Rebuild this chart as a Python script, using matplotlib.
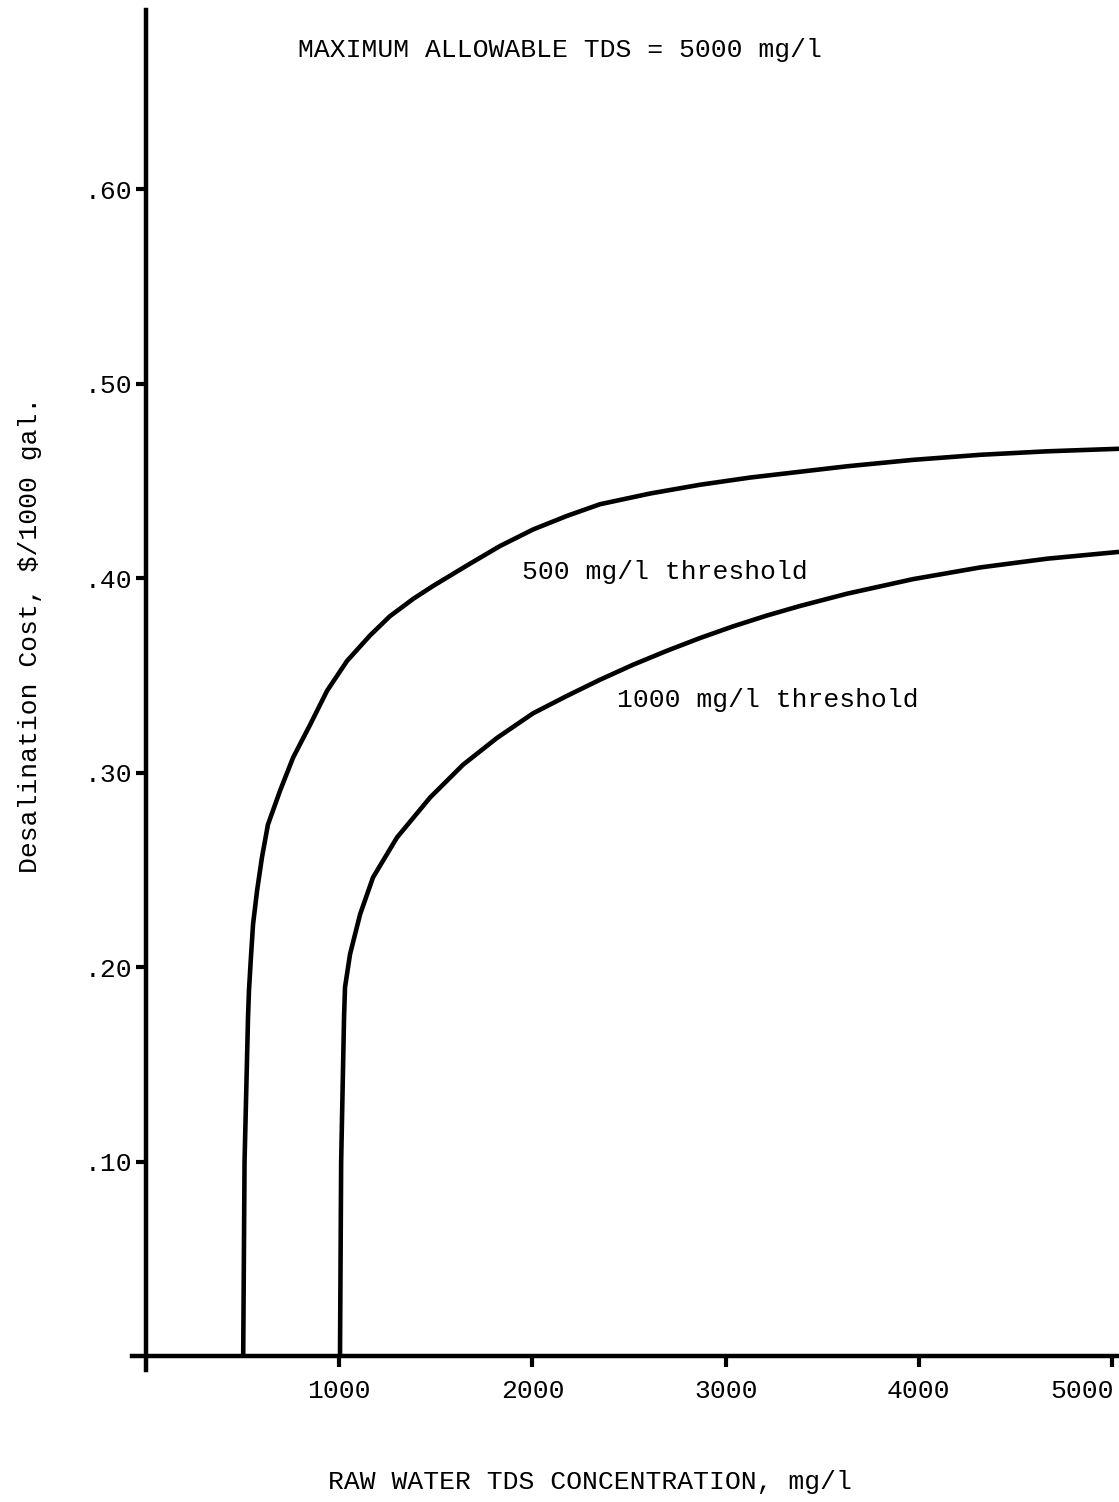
import matplotlib
matplotlib.use("Agg")
import matplotlib.pyplot as plt
import matplotlib.transforms as mtransforms

# ---- data ----
tds_500 = [503, 510, 528, 533, 543, 554, 575, 600, 631, 694, 761, 849, 937, 1040, 1159, 1263,
           1315, 1382, 1486, 1661, 1832, 2003, 2179, 2350, 2609, 2867, 3126, 3628, 3970, 4317, 4664, 5036]
cost_500 = [0.0, 0.10, 0.1744, 0.1882, 0.2051, 0.2221, 0.2395, 0.2564, 0.2733, 0.2908, 0.3077, 0.3246,
            0.3421, 0.3574, 0.3705, 0.3805, 0.3843, 0.3893, 0.3960, 0.4065, 0.4165, 0.4250, 0.4320,
            0.4380, 0.4435, 0.4480, 0.4517, 0.4575, 0.4608, 0.4634, 0.4652, 0.4665]

tds_1000 = [1004, 1010, 1025, 1030, 1056, 1108, 1175, 1299, 1470, 1641, 1817, 2003, 2179, 2350,
            2521, 2697, 2867, 3038, 3214, 3385, 3628, 3970, 4317, 4664, 5036]
cost_1000 = [0.0, 0.10, 0.1744, 0.1897, 0.2067, 0.2272, 0.2462, 0.2667, 0.2872, 0.3041, 0.3179,
             0.3305, 0.3395, 0.3478, 0.3555, 0.3627, 0.3692, 0.3752, 0.3808, 0.3857, 0.3920,
             0.3995, 0.4055, 0.4100, 0.4135]

x_ticks = [1000, 2000, 3000, 4000, 5000]
x_tick_labels = ["1000", "2000", "3000", "4000", "5000"]
y_ticks = [0.10, 0.20, 0.30, 0.40, 0.50, 0.60]
y_tick_labels = [".10", ".20", ".30", ".40", ".50", ".60"]

title_text = "MAXIMUM ALLOWABLE TDS = 5000 mg/l"
x_label = "RAW WATER TDS CONCENTRATION, mg/l"
y_label = "Desalination Cost, $/1000 gal."
label_500 = "500 mg/l threshold"
label_1000 = "1000 mg/l threshold"

FONT = ["Liberation Mono", "DejaVu Sans Mono"]
FS = 19

fig = plt.figure(figsize=(11.19, 15.02), dpi=100)
ax = fig.add_axes([0.1184, 0.0879, 1 - 0.1184, 0.9933 - 0.0879])
ax.set_xlim(-70, 5036)
ax.set_ylim(-0.007, 0.692)

ax.plot(tds_500, cost_500, color="black", lw=3.3, solid_capstyle="butt", solid_joinstyle="round")
ax.plot(tds_1000, cost_1000, color="black", lw=3.3, solid_capstyle="butt", solid_joinstyle="round")

for s in ["top", "right"]:
    ax.spines[s].set_visible(False)
ax.spines["left"].set_position(("data", 0))
ax.spines["bottom"].set_position(("data", 0))
ax.spines["left"].set_linewidth(3.2)
ax.spines["bottom"].set_linewidth(3.2)

ax.set_xticks(x_ticks)
ax.set_xticklabels(x_tick_labels, fontfamily=FONT, fontsize=FS)
ax.set_yticks(y_ticks)
ax.set_yticklabels(y_tick_labels, fontfamily=FONT, fontsize=FS)
ax.tick_params(axis="x", direction="out", length=8, width=3, pad=8)
ax.tick_params(axis="y", direction="out", length=7, width=3, pad=3)
lbls = ax.get_xticklabels()
lbls[-1].set_horizontalalignment("right")
lbls[-1].set_transform(lbls[-1].get_transform() + mtransforms.ScaledTranslation(0.02, 0, fig.dpi_scale_trans))

ax.text(1946, 0.4030, label_500, fontfamily=FONT, fontsize=FS, va="center", ha="left")
ax.text(2438, 0.3375, label_1000, fontfamily=FONT, fontsize=FS, va="center", ha="left")

fig.text(0.2663, 0.9667, title_text, fontfamily=FONT, fontsize=FS, va="center", ha="left")
fig.text(0.527, 0.0133, x_label, fontfamily=FONT, fontsize=FS, va="center", ha="center")
fig.text(0.0268, 0.577, y_label, fontfamily=FONT, fontsize=FS, va="center", ha="center", rotation=90)

fig.savefig("out.png", dpi=100)
